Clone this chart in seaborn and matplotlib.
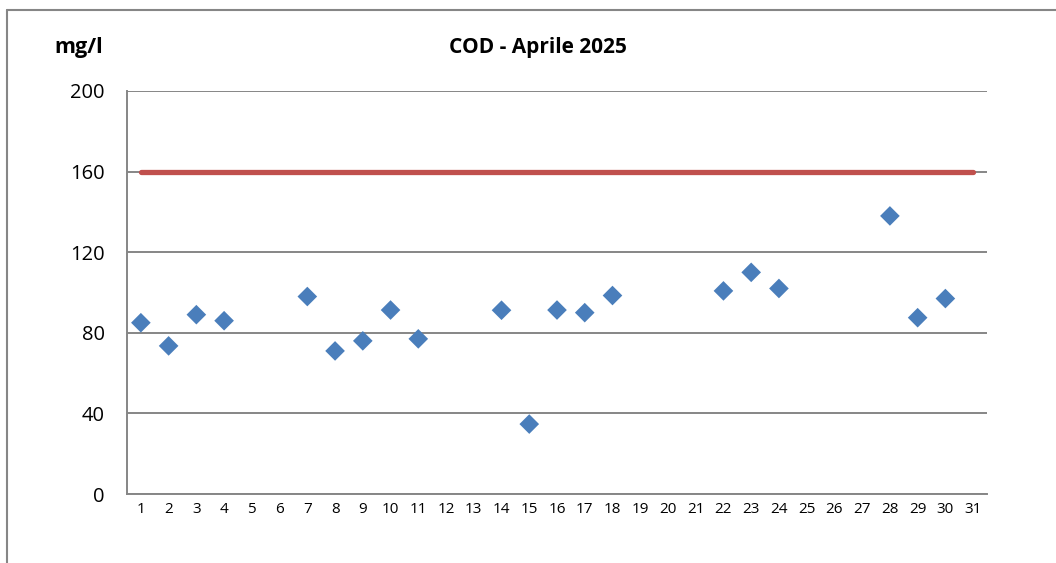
import matplotlib
matplotlib.use('Agg')
import matplotlib.pyplot as plt
from matplotlib.lines import Line2D
import seaborn as sns
import pandas as pd

# COD daily measurements, April 2025 (mg/l)
days = [1, 2, 3, 4, 7, 8, 9, 10, 11, 14, 15, 16, 17, 18, 22, 23, 24, 28, 29, 30]
cod = [85, 73.5, 89, 86, 98, 71, 76, 91.3, 77, 91.2, 34.7, 91.3, 90, 98.5,
       100.8, 110, 102, 138, 87.5, 97]
day_labels = [str(d) for d in range(1, 32)]
limit_days = [1, 31]
limit_values = [160, 160]
y_ticks = [0, 40, 80, 120, 160, 200]

grid_grey = '#868686'

sns.set_theme(style='white')
plt.rcParams['font.family'] = ['Open Sans', 'DejaVu Sans']
plt.rcParams['text.color'] = 'black'
plt.rcParams['xtick.labelcolor'] = 'black'
plt.rcParams['ytick.labelcolor'] = 'black'

fig = plt.figure(figsize=(10.56, 5.63), dpi=100)
ax = fig.add_axes([127 / 1056, 1 - 494 / 563, 860 / 1056, 403 / 563])

df = pd.DataFrame({'day': days, 'cod': cod})
lim = pd.DataFrame({'day': limit_days, 'cod': limit_values})

sns.lineplot(data=lim, x='day', y='cod', ax=ax, color='#c0504d',
             linewidth=3.8, solid_capstyle='round', zorder=3)
sns.scatterplot(data=df, x='day', y='cod', ax=ax, marker='D', s=100,
                color='#4a7ebb', edgecolor='none', zorder=4)

ax.set_xlim(0.5, 31.5)
ax.set_ylim(0, 200)
ax.set_yticks(y_ticks)
ax.set_yticklabels([str(t) for t in y_ticks], fontsize=14.5)
ax.yaxis.grid(True, color=grid_grey, linewidth=1.4)
ax.set_axisbelow(True)

# category labels at centres, tick marks between categories
ax.set_xticks(range(1, 32))
ax.set_xticklabels(day_labels, fontsize=11)
ax.set_xticks([d + 0.5 for d in range(0, 32)], minor=True)
ax.tick_params(axis='x', which='major', length=0, pad=6)
ax.tick_params(axis='x', which='minor', length=5, width=1.4,
               color=grid_grey, direction='out')
ax.tick_params(axis='y', length=6, width=1.4, color=grid_grey,
               direction='out', pad=10)
ax.set_xlabel('')
ax.set_ylabel('')

for side in ['top', 'right']:
    ax.spines[side].set_visible(False)
for side in ['left', 'bottom']:
    ax.spines[side].set_color(grid_grey)
    ax.spines[side].set_linewidth(1.4)

fig.text(538 / 1056, 1 - 47 / 563, 'COD - Aprile 2025', ha='center',
         va='center', fontsize=15, fontweight='bold')
fig.text(79 / 1056, 1 - 47 / 563, 'mg/l', ha='center', va='center',
         fontsize=15.5, fontweight='bold')

# outer chart frame (top and left edges visible)
fig.add_artist(Line2D([7 / 1056, 7 / 1056], [0, 1 - 10 / 563],
                      transform=fig.transFigure, color=grid_grey, lw=1.5))
fig.add_artist(Line2D([7 / 1056, 1], [1 - 10 / 563, 1 - 10 / 563],
                      transform=fig.transFigure, color=grid_grey, lw=1.5))

fig.savefig('out.png', dpi=100)
